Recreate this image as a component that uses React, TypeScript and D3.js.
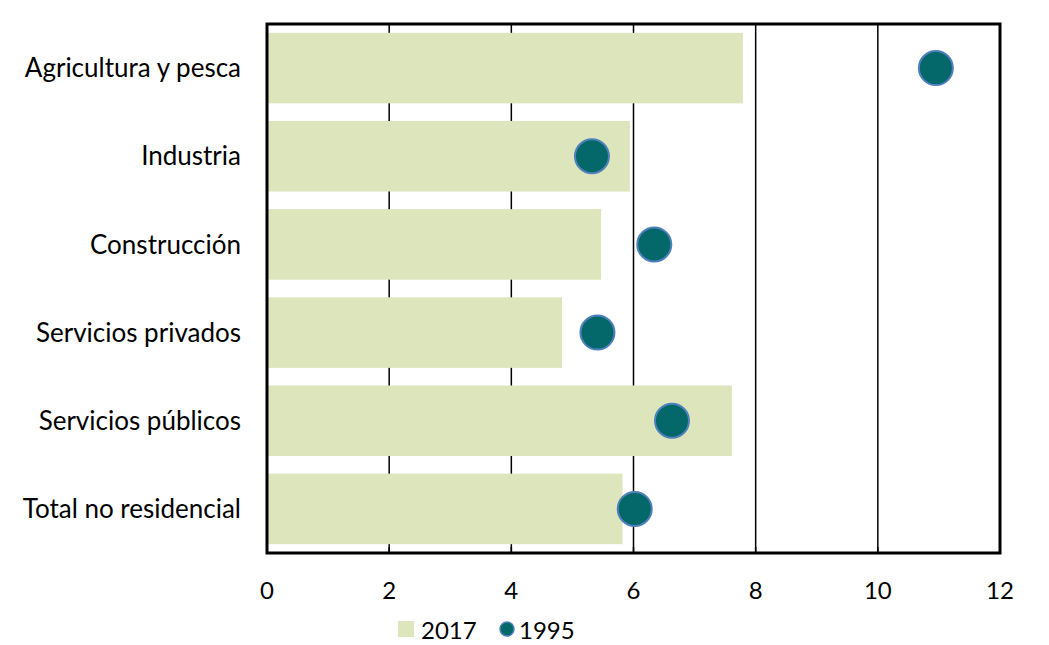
import React from "react";
import * as d3 from "d3";

const categories = [
  "Agricultura y pesca",
  "Industria",
  "Construcción",
  "Servicios privados",
  "Servicios públicos",
  "Total no residencial",
];
const values2017 = [7.79, 5.94, 5.47, 4.83, 7.61, 5.82];
const values1995 = [10.95, 5.32, 6.34, 5.41, 6.63, 6.02];
const xTicks = [0, 2, 4, 6, 8, 10, 12];
const seriesNames = ["2017", "1995"];

const W = 1049;
const H = 645;
const left = 267;
const right = 1000;
const top = 24;
const bottom = 553;
const FONT = "Lato, 'Open Sans', sans-serif";

export default function App() {
  const x = d3.scaleLinear().domain([0, 12]).range([left, right]);
  const y = d3
    .scaleBand<string>()
    .domain(categories)
    .range([top, bottom])
    .paddingInner(0.2)
    .paddingOuter(0.1);

  return (
    <svg
      width={W}
      height={H}
      style={{ position: "absolute", left: 0, top: 0, background: "#fff" }}
    >
      {xTicks.slice(1, -1).map((t) => (
        <line
          key={"g" + t}
          x1={x(t)}
          x2={x(t)}
          y1={top}
          y2={bottom}
          stroke="#000"
          strokeWidth={1.5}
        />
      ))}
      {categories.map((c, i) => (
        <rect
          key={"b" + c}
          x={x(0)}
          y={y(c)}
          width={x(values2017[i]) - x(0)}
          height={y.bandwidth()}
          fill="#dde5bc"
        />
      ))}
      {xTicks.slice(1, -1).map((t) => (
        <line
          key={"tk" + t}
          x1={x(t)}
          x2={x(t)}
          y1={bottom}
          y2={bottom - 6}
          stroke="#000"
          strokeWidth={1.5}
        />
      ))}
      <rect
        x={left}
        y={top}
        width={right - left}
        height={bottom - top}
        fill="none"
        stroke="#000"
        strokeWidth={3}
      />
      {categories.map((c, i) => (
        <circle
          key={"d" + c}
          cx={x(values1995[i])}
          cy={(y(c) as number) + y.bandwidth() / 2}
          r={17}
          fill="#04676a"
          stroke="#4f81bd"
          strokeWidth={2}
        />
      ))}
      {categories.map((c) => (
        <text
          key={"l" + c}
          x={241}
          y={(y(c) as number) + y.bandwidth() / 2}
          dy="0.35em"
          textAnchor="end"
          fontFamily={FONT}
          fontSize={26}
          fill="#000"
        >
          {c}
        </text>
      ))}
      {xTicks.map((t) => (
        <text
          key={"t" + t}
          x={x(t)}
          y={599}
          textAnchor="middle"
          fontFamily={FONT}
          fontSize={24}
          fill="#000"
        >
          {t}
        </text>
      ))}
      <rect x={398} y={621} width={16} height={16} fill="#dde5bc" />
      <text x={421} y={639} fontFamily={FONT} fontSize={24} fill="#000">
        {seriesNames[0]}
      </text>
      <circle cx={507} cy={629} r={7} fill="#04676a" stroke="#4f81bd" strokeWidth={1.5} />
      <text x={519} y={639} fontFamily={FONT} fontSize={24} fill="#000">
        {seriesNames[1]}
      </text>
    </svg>
  );
}
